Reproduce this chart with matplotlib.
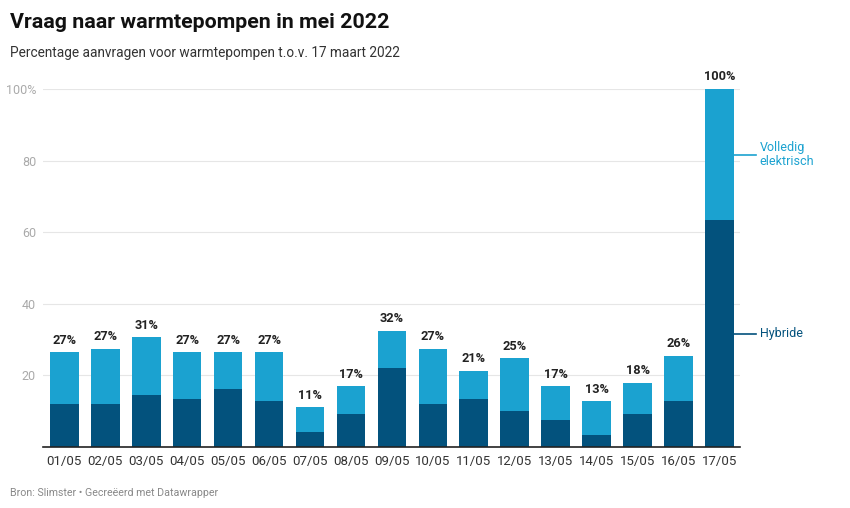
import matplotlib
matplotlib.use("Agg")
import matplotlib.pyplot as plt
import numpy as np

dates = ["01/05", "02/05", "03/05", "04/05", "05/05", "06/05", "07/05", "08/05", "09/05",
         "10/05", "11/05", "12/05", "13/05", "14/05", "15/05", "16/05", "17/05"]
hybride = [12.0, 12.0, 14.5, 13.5, 16.2, 12.8, 4.2, 9.3, 22.1,
           12.0, 13.5, 10.1, 7.5, 3.4, 9.3, 12.8, 63.3]
totaal = [26.5, 27.4, 30.7, 26.5, 26.5, 26.5, 11.1, 17.0, 32.4,
          27.4, 21.3, 24.8, 17.0, 12.8, 17.9, 25.5, 100.0]
elektrisch = [t - h for t, h in zip(totaal, hybride)]
labels = ["27%", "27%", "31%", "27%", "27%", "27%", "11%", "17%", "32%",
          "27%", "21%", "25%", "17%", "13%", "18%", "26%", "100%"]
yticks = [0, 20, 40, 60, 80, 100]
yticklabels = ["", "20", "40", "60", "80", "100%"]

dark = "#03527d"
light = "#1ba2d0"

plt.rcParams['font.family'] = ['Roboto', 'DejaVu Sans']

fig = plt.figure(figsize=(8.5, 5.08), dpi=100)
ax = fig.add_axes([43 / 850, 61 / 508, 697 / 850, 358 / 508])

x = np.arange(len(dates))
w = 0.7
ax.bar(x, hybride, width=w, color=dark, zorder=2)
ax.bar(x, elektrisch, width=w, bottom=hybride, color=light, zorder=2)

for xi, t, lab in zip(x, totaal, labels):
    ax.annotate(lab, (xi, t), xytext=(0, 4), textcoords="offset points",
                ha="center", va="bottom", fontsize=9.2, fontweight="bold",
                color="#222222", annotation_clip=False)

ax.set_xlim(-0.52, 16.5)
ax.set_ylim(0, 100)
ax.set_xticks(x)
ax.set_xticklabels(dates, fontsize=9.5, color="#333333")
ax.set_yticks(yticks)
ax.set_yticklabels(yticklabels, fontsize=9, color="#aaaaaa")
ax.tick_params(axis="both", length=0)
ax.tick_params(axis="x", pad=6)
ax.tick_params(axis="y", pad=5)
ax.grid(axis="y", color="#e6e6e6", linewidth=0.8, zorder=0)
for s in ["top", "right", "left"]:
    ax.spines[s].set_visible(False)
ax.spines["bottom"].set_color("#222222")
ax.spines["bottom"].set_linewidth(1.2)
ax.spines["bottom"].set_zorder(3)

# inline legend at the last bar
last = len(dates) - 1
y_el = (totaal[last] + hybride[last]) / 2
y_hy = hybride[last] / 2
x0 = last + w / 2
x1 = x0 + 0.53
ax.plot([x0, x1], [y_el, y_el], color=light, lw=1.2, clip_on=False)
ax.plot([x0, x1], [y_hy, y_hy], color=dark, lw=1.2, clip_on=False)
ax.text(x1 + 0.1, y_el, "Volledig\nelektrisch", color=light, fontsize=9,
        va="center", ha="left", linespacing=1.1)
ax.text(x1 + 0.1, y_hy, "Hybride", color=dark, fontsize=9,
        va="center", ha="left")

fig.text(10 / 850, 1 - 28 / 508, "Vraag naar warmtepompen in mei 2022",
         fontsize=15.4, fontweight="bold", color="#111111", va="baseline")
fig.text(10 / 850, 1 - 57 / 508, "Percentage aanvragen voor warmtepompen t.o.v. 17 maart 2022",
         fontsize=9.8, color="#333333", va="baseline")
fig.text(10 / 850, 1 - 496 / 508, "Bron: Slimster \u2022 Gecre\u00eberd met Datawrapper",
         fontsize=7.7, color="#888888", va="baseline")

fig.savefig("out.png", dpi=100, facecolor="white")
